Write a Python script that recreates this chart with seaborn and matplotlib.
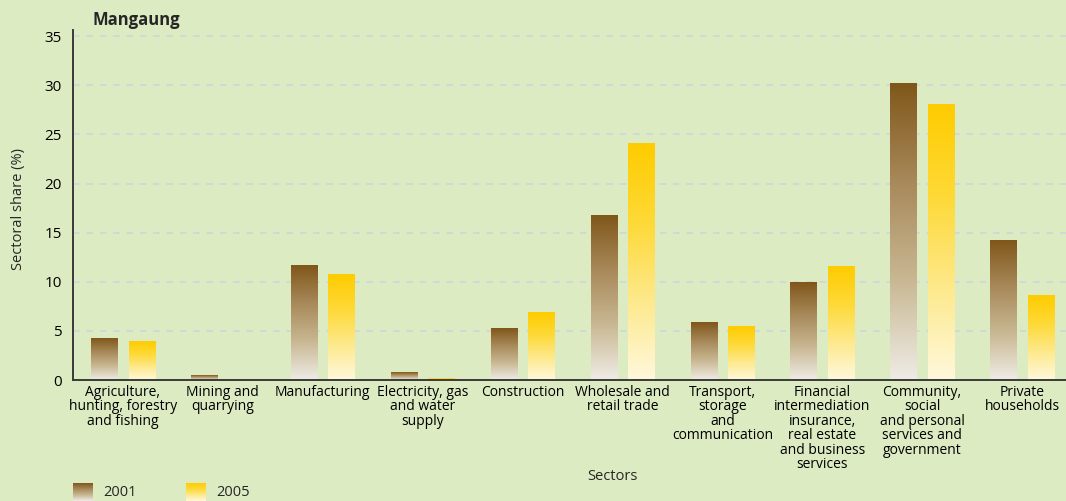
import numpy as np
import pandas as pd
import seaborn as sns
import matplotlib.pyplot as plt
from matplotlib.colors import LinearSegmentedColormap

sectors = [
    "Agriculture,\nhunting, forestry\nand fishing",
    "Mining and\nquarrying",
    "Manufacturing",
    "Electricity, gas\nand water\nsupply",
    "Construction",
    "Wholesale and\nretail trade",
    "Transport,\nstorage\nand\ncommunication",
    "Financial\nintermediation\ninsurance,\nreal estate\nand business\nservices",
    "Community,\nsocial\nand personal\nservices and\ngovernment",
    "Private\nhouseholds",
]
years = ["2001", "2005"]
share_2001 = [4.25, 0.5, 11.7, 0.8, 5.2, 16.7, 5.9, 9.95, 30.2, 14.2]
share_2005 = [3.87, 0.0, 10.7, 0.2, 6.9, 24.1, 5.4, 11.6, 28.0, 8.6]

dados = pd.DataFrame({
    "sector": sectors * 2,
    "year": [years[0]] * len(sectors) + [years[1]] * len(sectors),
    "share": share_2001 + share_2005,
})

bg = "#ddebc2"
cmaps = {
    "2001": LinearSegmentedColormap.from_list(
        "c2001", ["#efece6", "#c9b893", "#a8895a", "#80571a"]),
    "2005": LinearSegmentedColormap.from_list(
        "c2005", ["#fff8dc", "#fde98c", "#fed937", "#ffcc00"]),
}

sns.set_style("white")
plt.rcParams["font.family"] = ["Open Sans", "DejaVu Sans"]

fig = plt.figure(figsize=(10.66, 5.01), dpi=100, facecolor=bg)
ax = fig.add_axes([0.0685, 0.2415, 0.9315, 0.698])
ax.set_facecolor(bg)

sns.barplot(data=dados, x="sector", y="share", hue="year", order=sectors,
            hue_order=years, width=0.75, gap=0.3, palette=["#a8895a", "#fed937"],
            legend=False, ax=ax, zorder=2)

grad = np.linspace(0, 1, 256).reshape(-1, 1)
for year, cont in zip(years, ax.containers):
    for bar in cont:
        x, w, h = bar.get_x(), bar.get_width(), bar.get_height()
        bar.set_facecolor("none")
        bar.set_edgecolor("none")
        if h <= 0:
            continue
        ax.imshow(grad, cmap=cmaps[year], origin="lower", aspect="auto",
                  extent=[x, x + w, 0, h], zorder=2, interpolation="bilinear")

ax.set_xlim(-0.5, 9.44)
ax.set_ylim(0, 35.6)
ax.set_yticks(range(0, 36, 5))
for yv in range(5, 36, 5):
    ax.axhline(yv, color="#cfd6dc", lw=1.2, ls=(0, (4, 4)), zorder=1)

for s in ["top", "right"]:
    ax.spines[s].set_visible(False)
for s in ["left", "bottom"]:
    ax.spines[s].set_color("#3a3a3a")
    ax.spines[s].set_linewidth(1.4)
ax.spines["bottom"].set_zorder(3)

ax.tick_params(axis="both", length=0, labelsize=10.5, colors="black")
ax.tick_params(axis="y", pad=8, labelsize=11)
ax.set_xticks(range(len(sectors)))
ax.set_xticklabels(sectors, linespacing=0.95, fontsize=10)

ax.set_xlabel("Sectors", fontsize=10.5)
ax.xaxis.set_label_coords(0.543, -0.255)
ax.set_ylabel("Sectoral share (%)", fontsize=10.5)
ax.yaxis.set_label_coords(-0.047, 0.49)

fig.text(93 / 1066, 1 - 20 / 501, "Mangaung", fontsize=12, fontweight="bold",
         va="center", ha="left")

# legend
leg_items = [(73, 103), (186, 216)]
for year, (px, tx) in zip(years, leg_items):
    lax = fig.add_axes([px / 1066, 0, 20 / 1066, 18 / 501])
    lax.imshow(grad, cmap=cmaps[year], origin="lower", aspect="auto")
    lax.axis("off")
    fig.text(tx / 1066, 1 - 492 / 501, year, fontsize=10.5, va="center", ha="left")

fig.savefig("out.png", dpi=100, facecolor=bg)
